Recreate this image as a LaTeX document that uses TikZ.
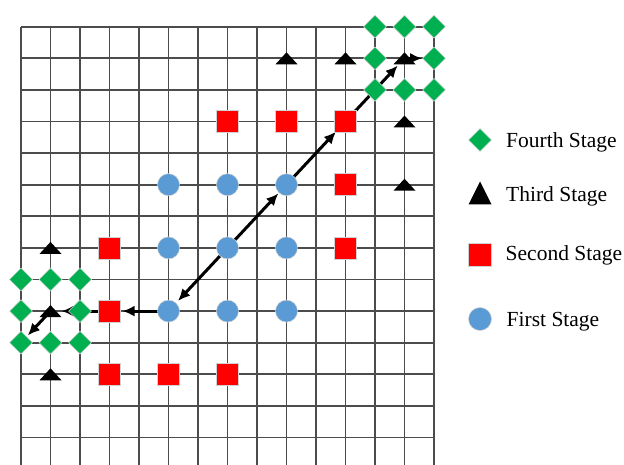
\documentclass[tikz,border=0pt]{standalone}
\usepackage{fontspec}
\setmainfont{Liberation Serif}
\usetikzlibrary{shapes.geometric,arrows.meta}
\definecolor{cblue}{HTML}{5B9BD5}
\definecolor{cred}{HTML}{FF0000}
\definecolor{cgreen}{HTML}{00B050}
\pgfdeclarelayer{gridlayer}
\pgfdeclarelayer{arrowlayer}
\pgfsetlayers{gridlayer,arrowlayer,main}
\begin{document}
\begin{tikzpicture}[x=1pt,y=-1pt,
  gridline/.style={draw=black!70, line width=1.8pt},
  mk/.style={draw=black!18, line width=0.5pt, inner sep=0pt},
  circ/.style={mk, circle, fill=cblue, minimum size=22pt},
  sq/.style={mk, rectangle, fill=cred, minimum size=22pt},
  dia/.style={mk, diamond, fill=cgreen, minimum width=23pt, minimum height=23pt},
  conn/.style={line width=3pt, -{Latex[length=12pt,width=11pt]}},
  lab/.style={anchor=base west, font=\fontsize{21.5}{26}\selectfont, inner sep=0pt},
  tri/.pic={\fill[black] (-11pt,-6pt) -- (11pt,-6pt) -- (0pt,6pt) -- cycle; \coordinate (-c) at (0,0);},
  bigtri/.pic={\fill[black] (-11.5pt,-11.5pt) -- (11.5pt,-11.5pt) -- (0pt,11.5pt) -- cycle; \coordinate (-c) at (0,0);}
]
\useasboundingbox (0,0) rectangle (624,465);

\begin{scope}[shift={(21pt,-26.7pt)}, x=29.5pt, y=-31.6pt]
  % grid
  \begin{pgfonlayer}{gridlayer}
    \foreach \i in {0,...,14} \draw[gridline] (\i,0) -- (\i,13.9);
    \foreach \j in {0,...,13} \draw[gridline] (0,\j) -- (14,\j);
  \end{pgfonlayer}

  % first stage: circles
  \foreach \i in {5,7,9} \foreach \j in {5,7,9}
    \node[circ] (c-\i-\j) at (\i,\j) {};

  % second stage: squares
  \foreach \i/\j in {7/3,9/3,11/3,11/5,11/7,3/7,3/9,3/11,5/11,7/11}
    \node[sq] (s-\i-\j) at (\i,\j) {};

  % third stage: triangles
  \foreach \i/\j in {9/1,11/1,13/1,13/3,13/5,1/7,1/9,1/11}
    \pic (t-\i-\j) at (\i,\j) {tri};

  % fourth stage: diamonds
  \foreach \i/\j in {12/0,13/0,14/0,12/1,14/1,12/2,13/2,14/2,0/8,1/8,2/8,0/9,2/9,0/10,1/10,2/10}
    \node[dia] (d-\i-\j) at (\i,\j) {};

  % connectors
  \begin{pgfonlayer}{arrowlayer}
    \draw[conn, shorten >=12pt] (c-7-7.center) -- (c-9-5.center);
    \draw[conn, shorten >=14pt] (c-9-5.center) -- (s-11-3.center);
    \draw[conn, shorten >=10pt] (s-11-3.center) -- (t-13-1-c);
    \draw[conn, shorten >=12pt] (t-13-1-c) -- (d-14-1.center);
    \draw[conn, shorten >=14pt] (c-7-7.center) -- (c-5-9.center);
    \draw[conn, shorten >=13pt] (c-5-9.center) -- (s-3-9.center);
    \draw[conn, shorten >=11pt] (s-3-9.center) -- (t-1-9-c);
    \draw[conn, shorten >=10pt] (t-1-9-c) -- (d-0-10.center);
  \end{pgfonlayer}
\end{scope}

% legend
\node[dia] (ld) at (480,140) {};
\pic (lt) at (480,193) {bigtri};
\node[sq, minimum size=23pt] (ls) at (480,255) {};
\node[circ, minimum size=23pt] (lc) at (480,319) {};
\node[lab] (l4) at (506,148) {Fourth Stage};
\node[lab] (l3) at (506,201.5) {Third Stage};
\node[lab] (l2) at (505.5,260.5) {Second Stage};
\node[lab] (l1) at (506.5,326.5) {First Stage};
\end{tikzpicture}
\end{document}
